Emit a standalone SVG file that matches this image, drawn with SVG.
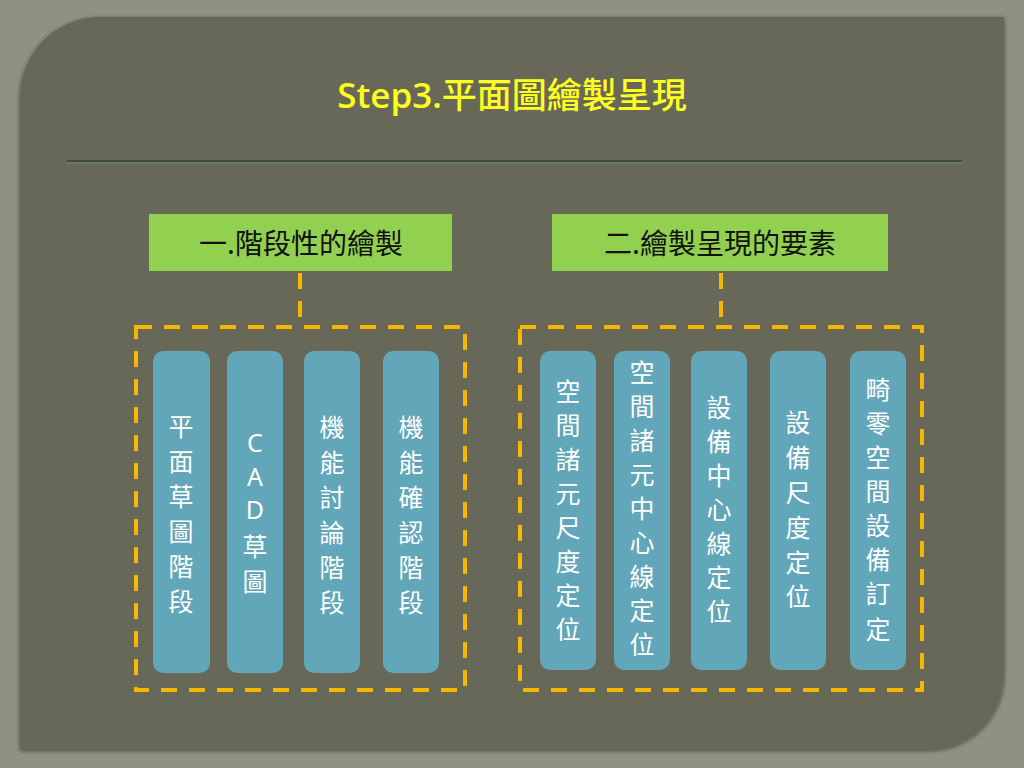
<svg xmlns="http://www.w3.org/2000/svg" width="1024" height="768" viewBox="0 0 1024 768">
<defs>
<pattern id="tex" width="4" height="4" patternUnits="userSpaceOnUse">
<rect width="4" height="4" fill="#8e9280"/>
<rect x="0" y="0" width="1" height="1" fill="#9a9e8c"/>
<rect x="2" y="2" width="1" height="1" fill="#9a9e8c"/>
<rect x="2" y="0" width="1" height="1" fill="#838775"/>
<rect x="0" y="2" width="1" height="1" fill="#838775"/>
</pattern>
<filter id="sh" x="-5%" y="-5%" width="110%" height="110%">
<feGaussianBlur in="SourceAlpha" stdDeviation="2"/>
<feOffset dx="0" dy="1"/>
<feComponentTransfer><feFuncA type="linear" slope="0.5"/></feComponentTransfer>
<feMerge><feMergeNode/><feMergeNode in="SourceGraphic"/></feMerge>
</filter>
<style>
.title{font-family:"Open Sans","Noto Sans CJK TC",sans-serif;font-size:35px;fill:#ffff1e}
.tl{font-weight:600}
.tc{font-family:"Noto Sans CJK TC",sans-serif;font-weight:500}
.hdr{fill:#92d050}
.hdrt{font-family:"Noto Sans CJK TC",sans-serif;font-size:28px;fill:#111;text-anchor:middle}
.item{fill:#62a6b9}
.it{font-family:"Noto Sans CJK TC",sans-serif;font-size:25px;fill:#ffffff;text-anchor:middle}
.lat{font-family:"Noto Sans","Open Sans",sans-serif;font-size:25px}
.dash{fill:none;stroke:#f5b800;stroke-width:4;stroke-dasharray:16,12}
</style>
</defs>
<rect width="1024" height="768" fill="url(#tex)"/>
<path d="M100,17 H1004 V675 A75,75 0 0 1 929,750 H20 V97 A80,80 0 0 1 100,17 Z" fill="#676858" filter="url(#sh)"/>
<text class="title" x="512" y="108" text-anchor="middle"><tspan class="tl">Step3.</tspan><tspan class="tc">平面圖繪製呈現</tspan></text>
<line x1="67" y1="161" x2="962" y2="161" stroke="#3f4e3e" stroke-width="2"/>
<line x1="67" y1="163" x2="962" y2="163" stroke="#7c8572" stroke-width="1"/>

<g id="connectors">
<line class="dash" x1="300" y1="273" x2="300" y2="327"/>
<line class="dash" x1="721" y1="273" x2="721" y2="327"/>
<rect class="dash" x="136" y="327" width="329" height="363"/>
<rect class="dash" x="520" y="327" width="402" height="363"/>
</g>

<g id="h1"><rect class="hdr" x="149" y="214" width="303" height="57"/><text class="hdrt" x="301" y="254">一.階段性的繪製</text></g>
<g id="h2"><rect class="hdr" x="552" y="214" width="336" height="57"/><text class="hdrt" x="720" y="254">二.繪製呈現的要素</text></g>

<g id="a1"><rect class="item" x="153" y="351" width="57" height="322" rx="10"/>
<text class="it"><tspan x="181" y="436">平</tspan><tspan x="181" y="471">面</tspan><tspan x="181" y="506">草</tspan><tspan x="181" y="541">圖</tspan><tspan x="181" y="576">階</tspan><tspan x="181" y="611">段</tspan></text></g>
<g id="a2"><rect class="item" x="227" y="351" width="56" height="322" rx="10"/>
<text class="it"><tspan class="lat" x="255" y="452">C</tspan><tspan class="lat" x="255" y="486">A</tspan><tspan class="lat" x="255" y="519">D</tspan><tspan x="255" y="556">草</tspan><tspan x="255" y="591">圖</tspan></text></g>
<g id="a3"><rect class="item" x="304" y="351" width="56" height="322" rx="10"/>
<text class="it"><tspan x="332" y="437">機</tspan><tspan x="332" y="472">能</tspan><tspan x="332" y="507">討</tspan><tspan x="332" y="542">論</tspan><tspan x="332" y="577">階</tspan><tspan x="332" y="612">段</tspan></text></g>
<g id="a4"><rect class="item" x="383" y="351" width="56" height="322" rx="10"/>
<text class="it"><tspan x="411" y="437">機</tspan><tspan x="411" y="472">能</tspan><tspan x="411" y="507">確</tspan><tspan x="411" y="542">認</tspan><tspan x="411" y="577">階</tspan><tspan x="411" y="612">段</tspan></text></g>

<g id="b1"><rect class="item" x="540" y="351" width="56" height="319" rx="10"/>
<text class="it"><tspan x="568" y="401">空</tspan><tspan x="568" y="435">間</tspan><tspan x="568" y="469">諸</tspan><tspan x="568" y="503">元</tspan><tspan x="568" y="537">尺</tspan><tspan x="568" y="571">度</tspan><tspan x="568" y="605">定</tspan><tspan x="568" y="639">位</tspan></text></g>
<g id="b2"><rect class="item" x="614" y="351" width="56" height="319" rx="10"/>
<text class="it"><tspan x="642" y="382">空</tspan><tspan x="642" y="416">間</tspan><tspan x="642" y="450">諸</tspan><tspan x="642" y="484">元</tspan><tspan x="642" y="518">中</tspan><tspan x="642" y="552">心</tspan><tspan x="642" y="586">線</tspan><tspan x="642" y="620">定</tspan><tspan x="642" y="654">位</tspan></text></g>
<g id="b3"><rect class="item" x="691" y="351" width="56" height="319" rx="10"/>
<text class="it"><tspan x="719" y="417">設</tspan><tspan x="719" y="451">備</tspan><tspan x="719" y="485">中</tspan><tspan x="719" y="519">心</tspan><tspan x="719" y="553">線</tspan><tspan x="719" y="587">定</tspan><tspan x="719" y="621">位</tspan></text></g>
<g id="b4"><rect class="item" x="770" y="351" width="56" height="319" rx="10"/>
<text class="it"><tspan x="798" y="432">設</tspan><tspan x="798" y="467">備</tspan><tspan x="798" y="502">尺</tspan><tspan x="798" y="537">度</tspan><tspan x="798" y="572">定</tspan><tspan x="798" y="606">位</tspan></text></g>
<g id="b5"><rect class="item" x="850" y="351" width="56" height="319" rx="10"/>
<text class="it"><tspan x="878" y="399">畸</tspan><tspan x="878" y="433">零</tspan><tspan x="878" y="467">空</tspan><tspan x="878" y="501">間</tspan><tspan x="878" y="535">設</tspan><tspan x="878" y="569">備</tspan><tspan x="878" y="603">訂</tspan><tspan x="878" y="639">定</tspan></text></g>
</svg>
